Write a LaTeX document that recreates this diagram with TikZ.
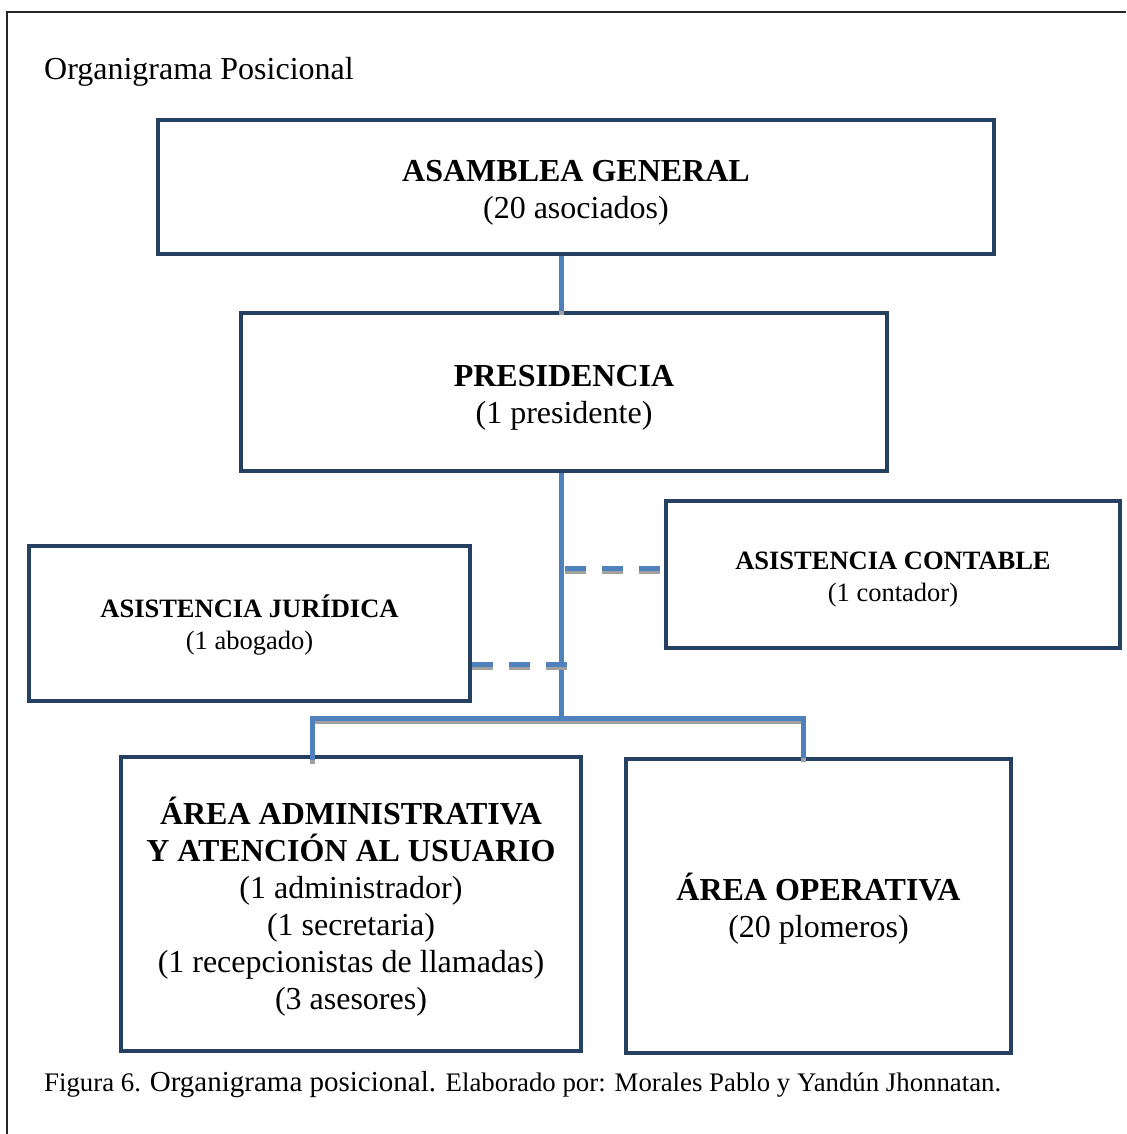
\documentclass[tikz,border=0pt]{standalone}
\usepackage{fontspec}
\setmainfont{Liberation Serif}
\definecolor{boxnavy}{RGB}{38,64,97}
\definecolor{linkblue}{RGB}{79,129,189}
\definecolor{linkshade}{RGB}{160,160,160}
\begin{document}
\begin{tikzpicture}[x=1pt,y=-1pt,
  unit/.style={draw=boxnavy, line width=4pt, fill=white, inner sep=0pt},
  caption text/.style={inner sep=0pt, align=center, text=black},
  bigtext/.style={caption text, font=\fontsize{32}{37}\selectfont},
  smalltext/.style={caption text, font=\fontsize{26.5}{31.5}\selectfont},
  link/.style={draw=linkblue, line width=5pt,
    preaction={draw=linkshade, line width=5pt, transform canvas={yshift=-3.5pt}}},
  advice/.style={draw=linkblue, line width=5pt, dash pattern=on 21pt off 16pt,
    preaction={draw=linkshade, line width=5pt, dash pattern=on 21pt off 16pt,
      transform canvas={yshift=-3.5pt}}},
  frame/.style={draw=black!85, line width=1.6pt}]
  \useasboundingbox (0,0) rectangle (1126,1134);

  % outer frame (top and left edges)
  \draw[frame] (1126,12) -- (7,12) -- (7,1134);

  % title
  \node[anchor=base west, inner sep=0pt, font=\fontsize{32}{38}\selectfont]
    (title) at (44,80) {Organigrama Posicional};

  % junction points of the connectors
  \coordinate (trunk) at (561,718);
  \coordinate (barL) at (312,718);
  \coordinate (barR) at (803,718);
  \coordinate (cj) at (565,568);
  \coordinate (jj) at (571,664);

  % boxes
  \node[unit, minimum width=836pt, minimum height=134pt] (asamblea) at (576,187) {};
  \node[unit, minimum width=646pt, minimum height=158pt] (presidencia) at (564,392) {};
  \node[unit, minimum width=441pt, minimum height=155pt] (juridica) at (249.5,623.5) {};
  \node[unit, minimum width=454pt, minimum height=147pt] (contable) at (893,574.5) {};
  \node[unit, minimum width=460pt, minimum height=294pt] (admin) at (351,904) {};
  \node[unit, minimum width=385pt, minimum height=294pt] (operativa) at (818.5,906) {};

  % box texts
  \node[bigtext, yshift=-6pt] (tA) at (asamblea.center)
    {\textbf{ASAMBLEA GENERAL}\\(20 asociados)};
  \node[bigtext, yshift=-6pt] (tP) at (presidencia.center)
    {\textbf{PRESIDENCIA}\\(1 presidente)};
  \node[smalltext, yshift=-1.5pt] (tJ) at (juridica.center)
    {\textbf{ASISTENCIA JURÍDICA}\\(1 abogado)};
  \node[smalltext, yshift=-5pt] (tC) at (contable.center)
    {\textbf{ASISTENCIA CONTABLE}\\(1 contador)};
  \node[bigtext, yshift=-3pt] (tAd) at (admin.center)
    {\textbf{ÁREA ADMINISTRATIVA}\\\textbf{Y ATENCIÓN AL USUARIO}\\(1 administrador)\\(1 secretaria)\\(1 recepcionistas de llamadas)\\(3 asesores)};
  \node[bigtext, yshift=-3pt] (tO) at (operativa.center)
    {\textbf{ÁREA OPERATIVA}\\(20 plomeros)};

  % connectors
  \draw[link] (asamblea.south -| trunk) -- (presidencia.north -| trunk);
  \draw[link] (presidencia.south -| trunk) -- (trunk);
  \draw[advice] (cj) -- (contable.west |- cj);
  \draw[advice] (juridica.east |- jj) -- (jj);
  \draw[link] ([yshift=-5pt]admin.north -| barL) -- (barL) -- (barR)
    -- ([yshift=-1pt]operativa.north -| barR);

  % caption
  \node[anchor=base west, inner sep=0pt] (caption) at (44,1091)
    {\fontsize{26.8}{30}\selectfont Figura 6. \fontsize{29}{32}\selectfont Organigrama posicional. \fontsize{26.8}{30}\selectfont Elaborado por: Morales Pablo y Yandún Jhonnatan.};
\end{tikzpicture}
\end{document}
